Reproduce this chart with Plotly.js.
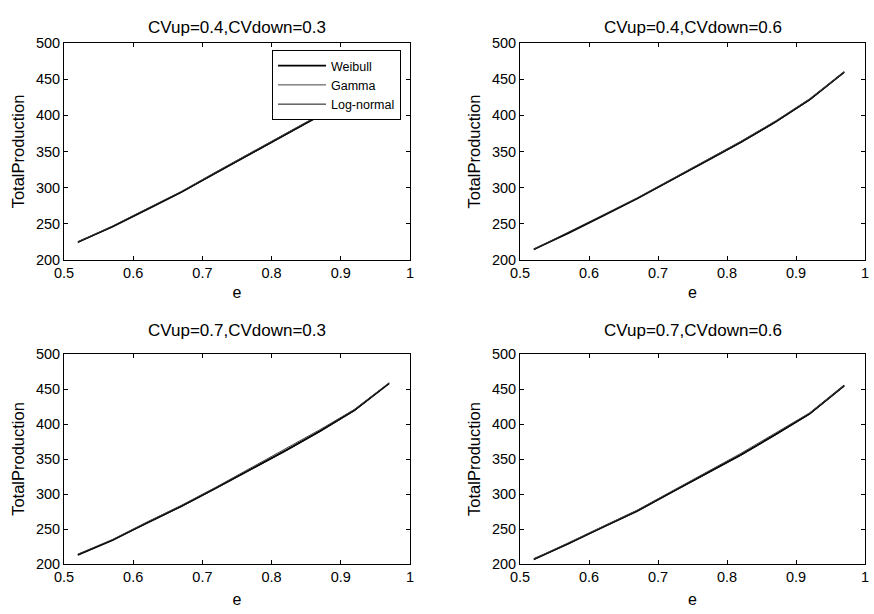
<!DOCTYPE html>
<html>
<head>
<meta charset="utf-8">
<script src="https://cdn.plot.ly/plotly-3.0.1.min.js"></script>
<style>html,body{margin:0;padding:0;background:#fff;}#chart{width:874px;height:614px;}</style>
</head>
<body>
<div id="chart"></div>
<script>
// e values (x axis)
const eVals = [0.52, 0.57, 0.62, 0.67, 0.72, 0.77, 0.82, 0.87, 0.92, 0.97];

// Panel titles
const panelTitles = ["CVup=0.4,CVdown=0.3", "CVup=0.4,CVdown=0.6", "CVup=0.7,CVdown=0.3", "CVup=0.7,CVdown=0.6"];
const seriesNames = ["Weibull", "Gamma", "Log-normal"];

// Panel 1: CVup=0.4, CVdown=0.3
const p1Weibull   = [225, 246, 270, 294, 321, 347, 374, 400, 429, 461];
const p1Gamma     = [225, 247, 271, 295, 322, 348, 375, 401, 430, 462];
const p1Lognormal = [224, 246, 270, 294, 320, 346, 373, 399, 428, 460];

// Panel 2: CVup=0.4, CVdown=0.6
const p2Weibull   = [215, 237, 261, 285, 311, 337, 363, 391, 422, 460];
const p2Gamma     = [215, 238, 262, 286, 312, 338, 364, 392, 423, 460];
const p2Lognormal = [214, 237, 261, 285, 310, 336, 362, 390, 421, 459];

// Panel 3: CVup=0.7, CVdown=0.3
const p3Weibull   = [213, 234, 259, 283, 309, 335, 362, 390, 420, 458];
const p3Gamma     = [214, 235, 260, 284, 310, 337, 364, 392, 421, 459];
const p3Lognormal = [213, 234, 258, 282, 308, 334, 361, 389, 419, 458];

// Panel 4: CVup=0.7, CVdown=0.6
const p4Weibull   = [207, 229, 253, 276, 303, 329, 356, 385, 415, 455];
const p4Gamma     = [207, 230, 254, 277, 304, 331, 358, 387, 416, 455];
const p4Lognormal = [206, 229, 252, 275, 302, 328, 355, 384, 414, 454];

const xTicks = [0.5, 0.6, 0.7, 0.8, 0.9, 1];
const xTickText = ["0.5", "0.6", "0.7", "0.8", "0.9", "1"];
const yTicks = [200, 250, 300, 350, 400, 450, 500];

const panels = [
  [p1Weibull, p1Gamma, p1Lognormal],
  [p2Weibull, p2Gamma, p2Lognormal],
  [p3Weibull, p3Gamma, p3Lognormal],
  [p4Weibull, p4Gamma, p4Lognormal]
];

const lineStyles = [
  {color: "#000000", width: 1.7},
  {color: "#444444", width: 1},
  {color: "#111111", width: 1}
];

const FONT = "Liberation Sans, Arial, sans-serif";
const W = 874, H = 614;

// pixel boxes of the four axes [left, right, top, bottom], title centre y, x-title standoff
const boxes = [
  [64, 410, 43, 260, 27, 6],
  [520, 865, 43, 260, 27, 6],
  [64, 410, 354, 564, 330, 9],
  [520, 865, 354, 564, 330, 9]
];

const traces = [];
panels.forEach((series, pi) => {
  series.forEach((vals, si) => {
    traces.push({
      type: "scatter", mode: "lines",
      x: eVals, y: vals,
      name: seriesNames[si],
      xaxis: "x" + (pi === 0 ? "" : pi + 1),
      yaxis: "y" + (pi === 0 ? "" : pi + 1),
      line: lineStyles[si],
      showlegend: pi === 0
    });
  });
});

const layout = {
  width: W, height: H,
  margin: {l: 0, r: 0, t: 0, b: 0},
  paper_bgcolor: "#ffffff",
  plot_bgcolor: "#ffffff",
  font: {family: FONT, size: 14, color: "#000"},
  showlegend: true,
  legend: {
    x: 272 / W, y: 1 - 50 / H, xanchor: "left", yanchor: "top",
    bgcolor: "#ffffff", bordercolor: "#000", borderwidth: 1,
    font: {family: FONT, size: 12.5, color: "#000"},
    itemwidth: 48, tracegroupgap: 0
  },
  annotations: []
};

boxes.forEach((b, i) => {
  const sx = i === 0 ? "" : String(i + 1);
  layout["xaxis" + sx] = {
    domain: [b[0] / W, b[1] / W],
    anchor: "y" + sx,
    range: [0.5, 1],
    tickvals: xTicks, ticktext: xTickText,
    ticks: "inside", ticklen: 4, tickcolor: "#000", tickwidth: 1,
    showline: true, linecolor: "#000", linewidth: 1, mirror: "ticks",
    showgrid: false, zeroline: false,
    tickfont: {family: FONT, size: 14.5},
    title: {text: "e", font: {family: FONT, size: 16}, standoff: b[5]}
  };
  layout["yaxis" + sx] = {
    domain: [1 - b[3] / H, 1 - b[2] / H],
    anchor: "x" + sx,
    range: [200, 500],
    tickvals: yTicks,
    ticks: "inside", ticklen: 4, tickcolor: "#000", tickwidth: 1,
    showline: true, linecolor: "#000", linewidth: 1, mirror: "ticks",
    showgrid: false, zeroline: false,
    tickfont: {family: FONT, size: 14.5},
    title: {text: "TotalProduction", font: {family: FONT, size: 16.5}, standoff: 7}
  };
  layout.annotations.push({
    text: panelTitles[i],
    xref: "paper", yref: "paper",
    x: (b[0] + b[1]) / 2 / W, y: 1 - b[4] / H,
    xanchor: "center", yanchor: "middle",
    showarrow: false,
    font: {family: FONT, size: 17, color: "#000"}
  });
});

Plotly.newPlot("chart", traces, layout, {staticPlot: true, displayModeBar: false});
</script>
</body>
</html>
